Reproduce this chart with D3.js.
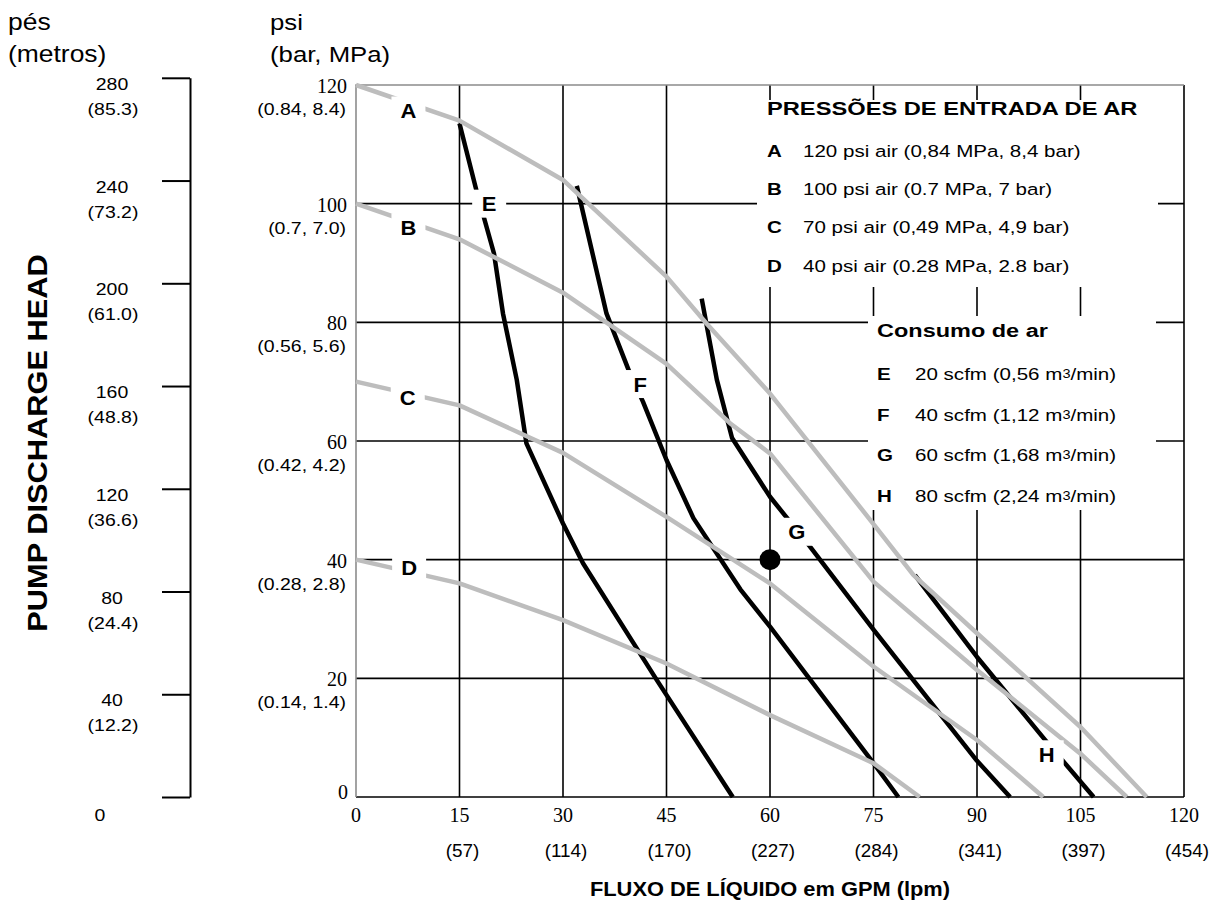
<!DOCTYPE html>
<html>
<head>
<meta charset="utf-8">
<script src="https://cdn.jsdelivr.net/npm/d3@7"></script>
<style>
  body { margin: 0; background: #fff; }
  text { font-family: Arial, "Liberation Sans", sans-serif; fill: #000; }
  text.serif { font-family: "Times New Roman", "Liberation Serif", serif; }
</style>
</head>
<body>
<div id="chart"></div>
<script>
/* DATA */
const gpmTicks = [0, 15, 30, 45, 60, 75, 90, 105, 120];
const lpmLabels = ["", "(57)", "(114)", "(170)", "(227)", "(284)", "(341)", "(397)", "(454)"];
const psiTicks = [0, 20, 40, 60, 80, 100, 120];
const psiSubLabels = ["", "(0.14, 1.4)", "(0.28, 2.8)", "(0.42, 4.2)", "(0.56, 5.6)", "(0.7, 7.0)", "(0.84, 8.4)"];
const ftTicks = [0, 40, 80, 120, 160, 200, 240, 280];
const mSubLabels = ["", "(12.2)", "(24.4)", "(36.6)", "(48.8)", "(61.0)", "(73.2)", "(85.3)"];

const pressKeys = ["A", "B", "C", "D"];
const pressTexts = [
  "120 psi air (0,84 MPa, 8,4 bar)",
  "100 psi air (0.7 MPa, 7 bar)",
  "70 psi air (0,49 MPa, 4,9 bar)",
  "40 psi air (0.28 MPa, 2.8 bar)"
];
const airKeys = ["E", "F", "G", "H"];
const airTexts = ["20 scfm (0,56", "40 scfm (1,12", "60 scfm (1,68", "80 scfm (2,24"];

// [gpm, psi] points
const curveA = [[0,120],[15,114],[30,104],[45,87.7],[50.8,79.8],[60,68],[75,46],[80.8,37.4],[90,27.6],[105,11.8],[114.6,0]];
const curveB = [[0,100],[15,94],[30,85],[45,73],[54.2,63],[60,57.9],[75,36.3],[90,21.4],[105,7.3],[111.7,0]];
const curveC = [[0,70],[15,66],[30,58],[45,47.2],[55.7,39.2],[60,36],[75,22],[90,9.6],[99.6,0]];
const curveD = [[0,40],[15,36],[30,29.8],[45,22.5],[60,13.8],[75,5.7],[81.7,0]];
const curveE = [[15,113.5],[17.5,102],[20,91.6],[21.3,81.5],[23.3,70.3],[24.7,59.6],[30,46.1],[32.9,39.4],[43.6,19.7],[54.6,0]];
const curveF = [[32,103],[36.3,81.5],[39.7,71.4],[41.6,66.6],[45,56.8],[48.9,47],[55.7,35],[60,28.7],[75,5.7],[78.6,0]];
const curveG = [[50.1,84],[52.3,70.3],[54.5,60.5],[60,50.6],[65.8,42.2],[75,28.2],[90,6.1],[94.8,0]];
const curveH = [[81,37.4],[90,23.6],[100.1,9.3],[106.9,0]];

const pressCurves = [curveA, curveB, curveC, curveD];
const airCurves = [curveE, curveF, curveG, curveH];
const pressLabelPos = [[7.6,115.7],[7.6,96],[7.5,67.3],[7.7,38.6]];
const airLabelPos = [[19.3,100],[41.2,69.6],[63.9,44.7],[100.1,7.2]];
const operatingPoint = [60, 40];

/* SETUP */
const width = 1211, height = 901;
const gray = "#bdbdbd";

const svg = d3.select("#chart").append("svg")
  .attr("width", width)
  .attr("height", height);

const x = d3.scaleLinear().domain([0, 120]).range([356, 1184]);
const y = d3.scaleLinear().domain([0, 120]).range([797, 85]);
const ft = d3.scaleLinear().domain([0, 280]).range([y(0), y(280 / 2.31)]);

function txt(g, px, py, s, o = {}) {
  return g.append("text")
    .attr("class", o.cls || null)
    .attr("transform", `translate(${px},${py})${o.rot ? " rotate(" + o.rot + ")" : ""} scale(${o.sx || 1},1)`)
    .attr("text-anchor", o.anchor || "start")
    .attr("font-size", o.size || 16)
    .attr("font-weight", o.weight || "normal")
    .text(s);
}

/* GRID */
const grid = svg.append("g");
grid.selectAll(".vline")
  .data(gpmTicks.filter(d => d > 0))
  .join("line")
    .attr("x1", d => x(d)).attr("x2", d => x(d))
    .attr("y1", y(120)).attr("y2", y(0))
    .attr("stroke", "#000").attr("stroke-width", 1.6);
grid.selectAll(".hline")
  .data(psiTicks.filter(d => d < 120))
  .join("line")
    .attr("x1", x(0)).attr("x2", x(120))
    .attr("y1", d => y(d)).attr("y2", d => y(d))
    .attr("stroke", "#000").attr("stroke-width", 1.6);
// grey top and left frame
grid.append("path")
  .attr("d", `M${x(0)},${y(0)}V${y(120)}H${x(120)}`)
  .attr("fill", "none").attr("stroke", "#8c8c8c").attr("stroke-width", 1.6);

// white legend panels break the grid
svg.append("rect").attr("x", 757).attr("y", 100).attr("width", 401).attr("height", 187).attr("fill", "#fff");
svg.append("rect").attr("x", 868).attr("y", 316).attr("width", 288).attr("height", 194).attr("fill", "#fff");

/* CURVES */
const line = d3.line().x(d => x(d[0])).y(d => y(d[1]));

svg.append("g").selectAll("path")
  .data(airCurves)
  .join("path")
    .attr("d", line)
    .attr("fill", "none").attr("stroke", "#000").attr("stroke-width", 4.5)
    .attr("stroke-linejoin", "round");

svg.append("g").selectAll("path")
  .data(pressCurves)
  .join("path")
    .attr("d", line)
    .attr("fill", "none").attr("stroke", gray).attr("stroke-width", 4.5)
    .attr("stroke-linejoin", "round");

/* CURVE LABELS */
const curveLabels = svg.append("g");
const allKeys = pressKeys.concat(airKeys);
const allPos = pressLabelPos.concat(airLabelPos);
allKeys.forEach((k, i) => {
  const px = x(allPos[i][0]), py = y(allPos[i][1]);
  curveLabels.append("rect")
    .attr("x", px - 17).attr("y", py - 14).attr("width", 34).attr("height", 28)
    .attr("fill", "#fff");
  txt(curveLabels, px, py + 7.5, k, { size: 20, sx: 1.1, anchor: "middle", weight: "bold" });
});

svg.append("circle")
  .attr("cx", x(operatingPoint[0])).attr("cy", y(operatingPoint[1]))
  .attr("r", 10.5).attr("fill", "#000");

/* LEFT FEET AXIS */
svg.append("g")
  .attr("transform", "translate(190,0)")
  .call(d3.axisLeft(ft).tickValues(ftTicks).tickSize(28).tickSizeOuter(0).tickFormat(""))
  .call(g => g.selectAll("line,path").attr("stroke", "#000").attr("stroke-width", 2));

const ftLabels = svg.append("g");
ftTicks.forEach((v, i) => {
  if (v === 0) {
    txt(ftLabels, 100, ft(v) + 24, "0", { size: 16.5, sx: 1.18, anchor: "middle" });
    return;
  }
  txt(ftLabels, 112, ft(v) + 12, String(v), { size: 16.5, sx: 1.18, anchor: "middle" });
  txt(ftLabels, 113, ft(v) + 37, mSubLabels[i], { size: 16.5, sx: 1.18, anchor: "middle" });
});

/* PSI AXIS LABELS */
const psiLabels = svg.append("g");
psiTicks.forEach((v, i) => {
  if (v === 0) {
    txt(psiLabels, 348, y(v) + 2, "0", { size: 20, anchor: "end", cls: "serif" });
    return;
  }
  txt(psiLabels, 347, y(v) + 8, String(v), { size: 20, anchor: "end", cls: "serif" });
  txt(psiLabels, 346, y(v) + 30, psiSubLabels[i], { size: 16.5, sx: 1.18, anchor: "end" });
});

/* X AXIS LABELS */
const xLabels = svg.append("g");
gpmTicks.forEach((v, i) => {
  txt(xLabels, x(v), 822, String(v), { size: 20, anchor: "middle", cls: "serif" });
  if (lpmLabels[i]) txt(xLabels, x(v) + 3, 857, lpmLabels[i], { size: 18, sx: 1.05, anchor: "middle" });
});

/* TITLES */
txt(svg, 8, 30, "pés", { size: 23, sx: 1.15 });
txt(svg, 8, 62, "(metros)", { size: 23, sx: 1.15 });
txt(svg, 270, 30, "psi", { size: 23, sx: 1.12 });
txt(svg, 270, 62, "(bar, MPa)", { size: 23, sx: 1.12 });
txt(svg, 47, 443, "PUMP DISCHARGE HEAD", { size: 28, sx: 1.1, rot: -90, anchor: "middle", weight: "bold" });
txt(svg, 770, 896, "FLUXO DE LÍQUIDO em GPM (lpm)", { size: 21, sx: 1.04, anchor: "middle", weight: "bold" });

/* LEGEND */
const legend = svg.append("g");
txt(legend, 767, 115, "PRESSÕES DE ENTRADA DE AR", { size: 18.5, sx: 1.28, weight: "bold" });
pressKeys.forEach((k, i) => {
  const by = 156.5 + i * 38.4;
  txt(legend, 767, by, k, { size: 17, sx: 1.21, weight: "bold" });
  txt(legend, 803, by, pressTexts[i], { size: 17, sx: 1.21 });
});

txt(legend, 877, 337, "Consumo de ar", { size: 18.5, sx: 1.27, weight: "bold" });
airKeys.forEach((k, i) => {
  const by = 380 + i * 40.6;
  txt(legend, 877, by, k, { size: 17, sx: 1.21, weight: "bold" });
  const t = txt(legend, 915, by, airTexts[i] + " m", { size: 17, sx: 1.21 });
  t.append("tspan").attr("font-size", 12).attr("dy", -2).text("3");
  t.append("tspan").attr("dy", 2).text("/min)");
});
</script>
</body>
</html>
